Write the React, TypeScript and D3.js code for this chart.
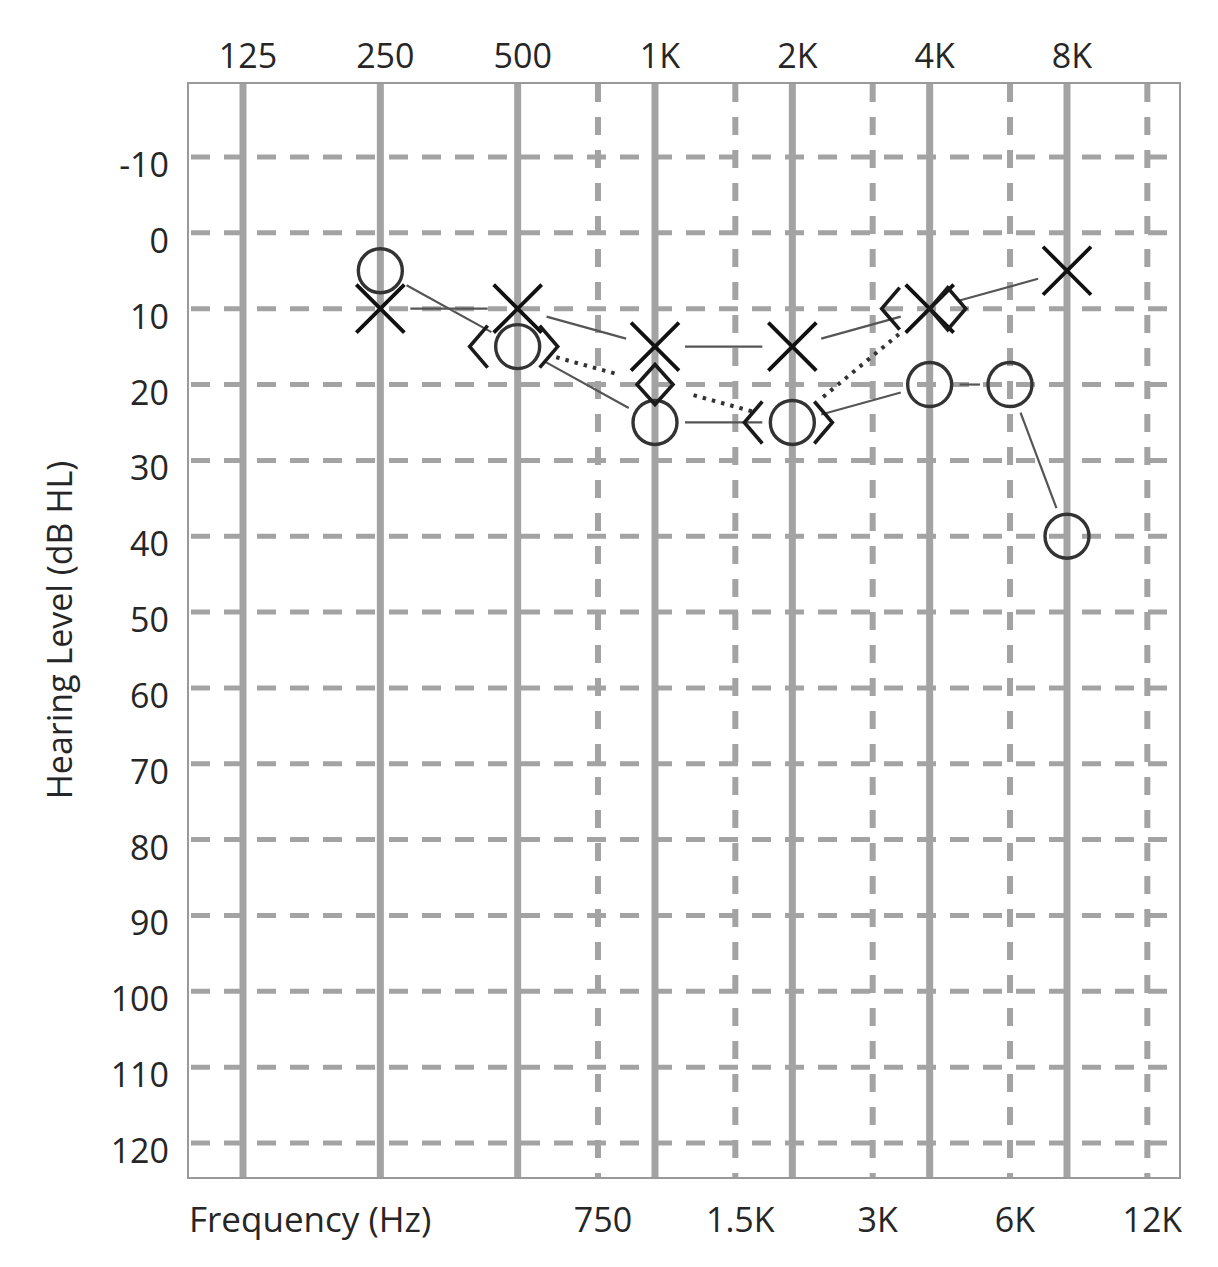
import React from "react";
import * as d3 from "d3";

// ---- Data ----
const solidFreqs = [125, 250, 500, 1000, 2000, 4000, 8000];
const solidLabels = ["125", "250", "500", "1K", "2K", "4K", "8K"];
const dashedFreqs = [750, 1500, 3000, 6000, 12000];
const dashedLabels = ["750", "1.5K", "3K", "6K", "12K"];
const levelTicks = [-10, 0, 10, 20, 30, 40, 50, 60, 70, 80, 90, 100, 110, 120];
const levelLabels = ["-10", "0", "10", "20", "30", "40", "50", "60", "70", "80", "90", "100", "110", "120"];

// Right ear air conduction (O)
const rightAirFreq = [250, 500, 1000, 2000, 4000, 6000, 8000];
const rightAirLevel = [5, 15, 25, 25, 20, 20, 40];
// Left ear air conduction (X)
const leftAirFreq = [250, 500, 1000, 2000, 4000, 8000];
const leftAirLevel = [10, 10, 15, 15, 10, 5];
// Bone conduction (dotted)
const boneFreq = [500, 1000, 2000, 4000];
const boneLevel = [15, 20, 25, 10];
// Bone symbol kinds per point
const boneLeftBracket = [true, false, true, true];
const boneRightBracket = [true, false, true, false];
const boneDiamond = ["none", "center", "none", "right"];

const W = 1218;
const H = 1267;
const frame = { left: 188, right: 1180, top: 83, bottom: 1178 };

const x = d3.scaleLog().base(2).domain([125, 8000]).range([243, 1067]);
const y = d3.scaleLinear().domain([-10, 120]).range([157, 1143]);

const FONT = "'Open Sans', 'Noto Sans', sans-serif";
const TEXT = "#262626";
const GRID = "#a3a3a3";

function gappedSegments(pts: [number, number][], g1: number, g2: number) {
  const segs: string[] = [];
  for (let i = 0; i < pts.length - 1; i++) {
    const [x1, y1] = pts[i];
    const [x2, y2] = pts[i + 1];
    const dx = x2 - x1;
    const dy = y2 - y1;
    const L = Math.hypot(dx, dy);
    const ux = dx / L;
    const uy = dy / L;
    segs.push(
      `M${x1 + ux * g1},${y1 + uy * g1}L${x2 - ux * g2},${y2 - uy * g2}`
    );
  }
  return segs;
}

export default function App() {
  const rightPts: [number, number][] = rightAirFreq.map((f, i) => [x(f), y(rightAirLevel[i])]);
  const leftPts: [number, number][] = leftAirFreq.map((f, i) => [x(f), y(leftAirLevel[i])]);
  const bonePts: [number, number][] = boneFreq.map((f, i) => [x(f), y(boneLevel[i])]);

  const xr = 24;
  const cr = 22;

  return (
    <svg
      width={W}
      height={H}
      style={{ position: "absolute", left: 0, top: 0, background: "#fff" }}
      fontFamily={FONT}
    >
      <rect x={0} y={0} width={W} height={H} fill="#fff" />
      {/* horizontal dashed grid */}
      {levelTicks.map((v) => (
        <line
          key={"h" + v}
          x1={frame.left}
          x2={frame.right}
          y1={y(v)}
          y2={y(v)}
          stroke={GRID}
          strokeWidth={5}
          strokeDasharray="19 14"
          strokeDashoffset={-3}
        />
      ))}
      {/* vertical dashed grid */}
      {dashedFreqs.map((f) => (
        <line
          key={"vd" + f}
          x1={x(f)}
          x2={x(f)}
          y1={frame.top}
          y2={frame.bottom}
          stroke={GRID}
          strokeWidth={6}
          strokeDasharray="18 15"
          strokeDashoffset={-1}
        />
      ))}
      {/* vertical solid grid */}
      {solidFreqs.map((f) => (
        <line
          key={"vs" + f}
          x1={x(f)}
          x2={x(f)}
          y1={frame.top}
          y2={frame.bottom}
          stroke={GRID}
          strokeWidth={7}
        />
      ))}
      {/* frame */}
      <rect
        x={frame.left}
        y={frame.top}
        width={frame.right - frame.left}
        height={frame.bottom - frame.top}
        fill="none"
        stroke="#999"
        strokeWidth={2}
      />
      {/* top labels */}
      {solidFreqs.map((f, i) => (
        <text
          key={"tl" + f}
          x={x(f) + 5}
          y={68}
          textAnchor="middle"
          fontSize={34}
          fill={TEXT}
        >
          {solidLabels[i]}
        </text>
      ))}
      {/* bottom labels */}
      {dashedFreqs.map((f, i) => (
        <text
          key={"bl" + f}
          x={x(f) + 5}
          y={1232}
          textAnchor="middle"
          fontSize={34}
          fill={TEXT}
        >
          {dashedLabels[i]}
        </text>
      ))}
      <text x={189} y={1232} fontSize={35} fill={TEXT}>
        Frequency (Hz)
      </text>
      {/* y labels */}
      {levelTicks.map((v, i) => (
        <text
          key={"yl" + v}
          x={169}
          y={y(v) + 20}
          textAnchor="end"
          fontSize={34}
          fill={TEXT}
        >
          {levelLabels[i]}
        </text>
      ))}
      <text
        transform={`translate(72,630) rotate(-90)`}
        textAnchor="middle"
        fontSize={34}
        fill={TEXT}
      >
        Hearing Level (dB HL)
      </text>

      {/* connecting lines */}
      {gappedSegments(rightPts, 30, 30).map((d, i) => (
        <path key={"rl" + i} d={d} stroke="#555" strokeWidth={2.2} fill="none" />
      ))}
      {gappedSegments(leftPts, 30, 30).map((d, i) => (
        <path key={"ll" + i} d={d} stroke="#555" strokeWidth={2.2} fill="none" />
      ))}
      {gappedSegments(bonePts, 40, 40).map((d, i) => (
        <path
          key={"bd" + i}
          d={d}
          stroke="#333"
          strokeWidth={4}
          strokeDasharray="3.5 6"
          fill="none"
        />
      ))}

      {/* circles */}
      {rightPts.map(([px, py], i) => (
        <circle
          key={"c" + i}
          cx={px}
          cy={py}
          r={cr}
          fill="none"
          stroke="#333"
          strokeWidth={3.4}
        />
      ))}
      {/* X marks */}
      {leftPts.map(([px, py], i) => (
        <path
          key={"x" + i}
          d={`M${px - xr},${py - xr}L${px + xr},${py + xr}M${px - xr},${py + xr}L${px + xr},${py - xr}`}
          stroke="#111"
          strokeWidth={3.8}
          fill="none"
        />
      ))}
      {/* bone symbols */}
      {bonePts.map(([px, py], i) => (
        <g key={"b" + i} stroke="#1a1a1a" strokeWidth={3.6} fill="none">
          {boneLeftBracket[i] && (
            <path d={`M${px - 30},${py - 21}L${px - 48},${py}L${px - 30},${py + 21}`} />
          )}
          {boneRightBracket[i] && (
            <path d={`M${px + 22},${py - 21}L${px + 40},${py}L${px + 22},${py + 21}`} />
          )}
          {boneDiamond[i] === "center" && (
            <path d={`M${px},${py - 20}L${px + 18},${py}L${px},${py + 20}L${px - 18},${py}Z`} />
          )}
          {boneDiamond[i] === "right" && (
            <path
              d={`M${px + 18},${py - 21}L${px + 36},${py}L${px + 18},${py + 21}L${px},${py}Z`}
            />
          )}
        </g>
      ))}
    </svg>
  );
}
